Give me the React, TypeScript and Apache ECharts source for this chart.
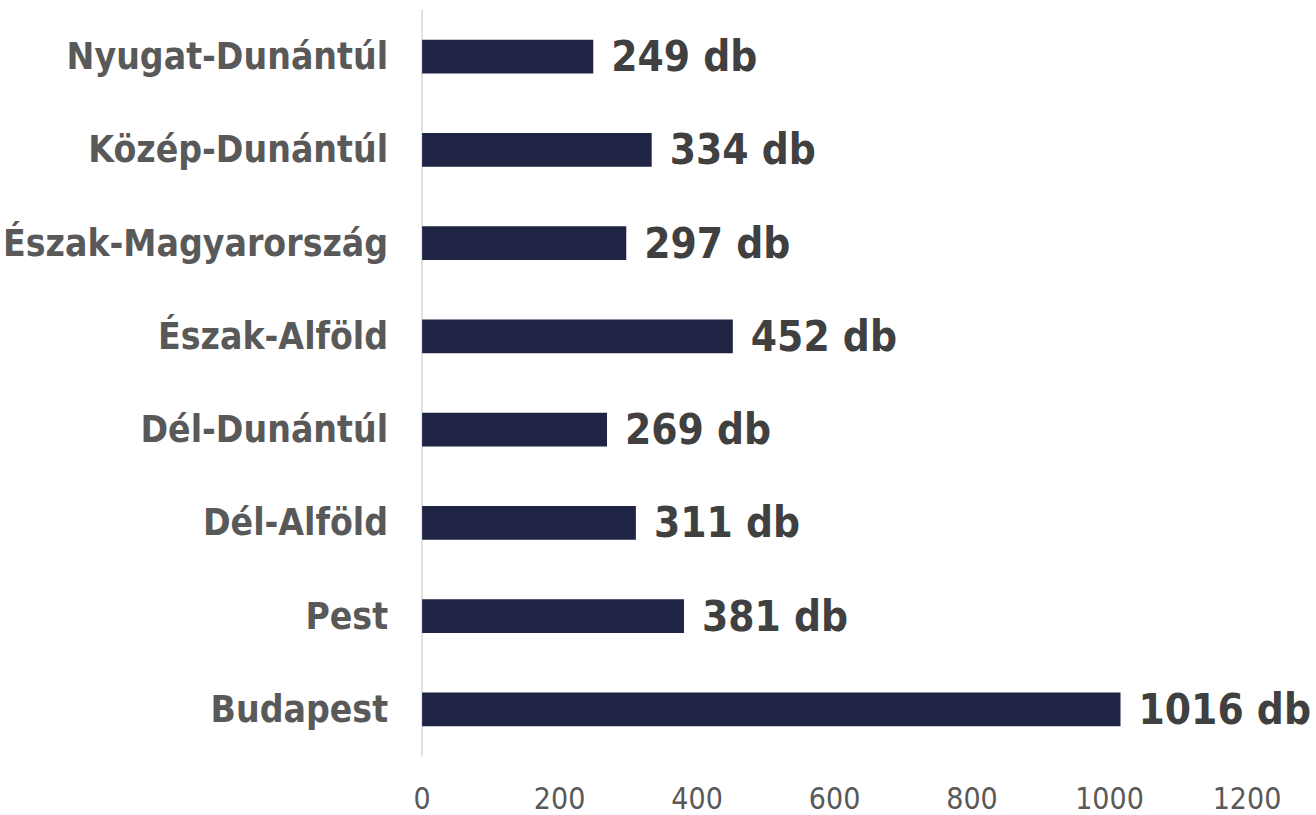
import React, { useEffect, useRef } from "react";
import * as echarts from "echarts";

const categories = [
  "Nyugat-Dunántúl",
  "Közép-Dunántúl",
  "Észak-Magyarország",
  "Észak-Alföld",
  "Dél-Dunántúl",
  "Dél-Alföld",
  "Pest",
  "Budapest",
];
const values = [249, 334, 297, 452, 269, 311, 381, 1016];
const axisMin = 0;
const axisMax = 1200;
const axisInterval = 200;

const FONT = "'DejaVu Sans Condensed', 'DejaVu Sans', sans-serif";

export default function App() {
  const ref = useRef<HTMLDivElement>(null);
  useEffect(() => {
    document.body.style.margin = "0";
    const chart = echarts.init(ref.current!, null, { renderer: "svg" });
    chart.setOption({
      animation: false,
      backgroundColor: "#ffffff",
      grid: { left: 422, right: 69, top: 10, bottom: 59, containLabel: false },
      xAxis: {
        type: "value",
        min: axisMin,
        max: axisMax,
        interval: axisInterval,
        splitLine: { show: false },
        axisLine: { show: false },
        axisTick: { show: false },
        axisLabel: {
          color: "#595959",
          fontSize: 30,
          fontFamily: FONT,
          margin: 27,
          formatter: (v: number) => String(v),
        },
      },
      yAxis: {
        type: "category",
        data: categories,
        inverse: true,
        axisLine: { show: true, lineStyle: { color: "#d9d9d9", width: 1.5 } },
        axisTick: { show: false },
        axisLabel: {
          color: "#595959",
          fontSize: 37,
          fontWeight: "bold",
          fontFamily: FONT,
          margin: 34,
        },
      },
      series: [
        {
          type: "bar",
          data: values,
          barWidth: "36%",
          itemStyle: { color: "#1f2444" },
          label: {
            show: true,
            position: "right",
            distance: 18,
            formatter: "{c} db",
            color: "#404040",
            fontSize: 42,
            fontWeight: "bold",
            fontFamily: FONT,
          },
        },
      ],
    });
    return () => chart.dispose();
  }, []);
  return <div ref={ref} style={{ width: 1316, height: 815 }} />;
}
